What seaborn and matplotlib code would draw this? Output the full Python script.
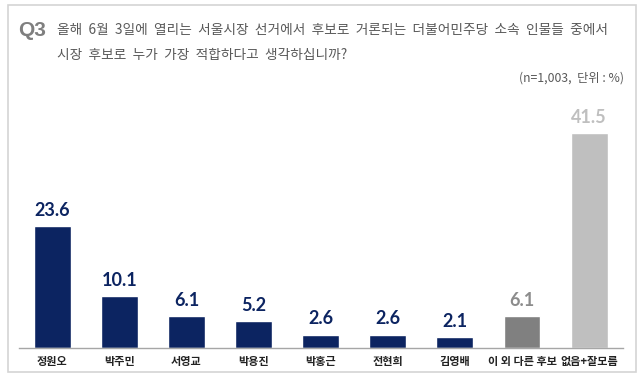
import matplotlib
matplotlib.use("Agg")
import matplotlib.pyplot as plt
import seaborn as sns
import pandas as pd
from matplotlib.patches import Rectangle

# 데이터
names = ["정원오", "박주민", "서영교", "박용진", "박홍근", "전현희", "김영배", "이 외 다른 후보", "없음+잘모름"]
values = [23.6, 10.1, 6.1, 5.2, 2.6, 2.6, 2.1, 6.1, 41.5]
bar_colors = ["#0c2461"] * 7 + ["#808080", "#bfbfbf"]
label_colors = ["#0c2461"] * 7 + ["#8c8c8c", "#bfbfbf"]

sns.set_theme(style="white")
plt.rcParams["font.family"] = ["Noto Sans CJK KR", "DejaVu Sans"]

df = pd.DataFrame({"name": names, "value": values})

fig = plt.figure(figsize=(6.4, 3.77), dpi=100)
ax = fig.add_axes([0.029, 0.077, 0.944, 0.617])

sns.barplot(data=df, x="name", y="value", hue="name", palette=bar_colors,
            width=0.55, legend=False, ax=ax, saturation=1)

for i, (v, c) in enumerate(zip(values, label_colors)):
    ax.text(i, v + 1.4, f"{v:.1f}", ha="center", va="bottom", color=c,
            fontsize=13, fontweight="bold", family=["Lato", "DejaVu Sans"])

ax.set_xlim(-0.5, len(names) - 0.5)
ax.set_ylim(0, 45)
ax.set_xlabel("")
ax.set_ylabel("")
ax.set_yticks([])
ax.tick_params(axis="x", length=0, pad=5, labelsize=8, labelcolor="#222222")
for lbl in ax.get_xticklabels():
    lbl.set_fontweight("bold")
for s in ["top", "right", "left"]:
    ax.spines[s].set_visible(False)
ax.spines["bottom"].set_color("#a6a6a6")
ax.spines["bottom"].set_linewidth(1)

# 외곽 테두리
fig.patches.append(Rectangle((8 / 640, 5 / 377), 628 / 640, 367 / 377,
                             transform=fig.transFigure, fill=False,
                             edgecolor="#d4d4d4", linewidth=1.2))

# 제목
fig.text(18 / 640, 1 - 30 / 377, "Q3", fontsize=15, fontweight="bold",
         color="#7f7f7f", va="center", ha="left", family=["Liberation Sans", "DejaVu Sans"])
fig.text(57 / 640, 1 - 30 / 377,
         "올해  6월  3일에  열리는  서울시장  선거에서  후보로  거론되는  더불어민주당  소속  인물들  중에서",
         fontsize=9.85, color="#595959", va="center", ha="left")
fig.text(57 / 640, 1 - 55 / 377, "시장  후보로  누가  가장  적합하다고  생각하십니까?",
         fontsize=9.85, color="#595959", va="center", ha="left")
fig.text(624 / 640, 1 - 78 / 377, "(n=1,003,  단위 : %)", fontsize=8.8,
         color="#595959", va="center", ha="right")

fig.savefig("out.png", dpi=100)
